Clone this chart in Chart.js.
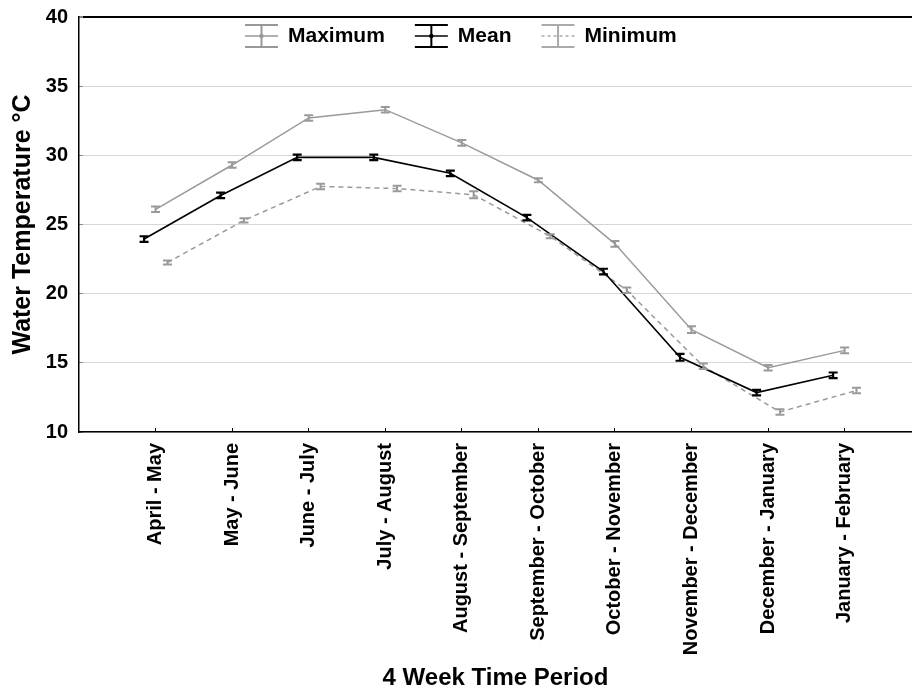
<!DOCTYPE html>
<html>
<head>
<meta charset="utf-8">
<script src="https://cdn.jsdelivr.net/npm/chart.js@4.4.1/dist/chart.umd.min.js"></script>
<style>
  html, body { margin: 0; padding: 0; background: #fff; }
  #grafico { display: block; }
</style>
</head>
<body>
<canvas id="grafico" width="912" height="693"></canvas>
<script>
const periods = ['April - May', 'May - June', 'June - July', 'July - August', 'August - September',
  'September - October', 'October - November', 'November - December', 'December - January', 'January - February'];

const maxTemp = [26.1, 29.3, 32.7, 33.3, 30.9, 28.2, 23.6, 17.4, 14.65, 15.9];
const maxErr  = [0.2, 0.2, 0.2, 0.2, 0.2, 0.15, 0.2, 0.25, 0.2, 0.2];

const meanTemp = [23.95, 27.1, 29.85, 29.85, 28.7, 25.5, 21.6, 15.4, 12.85, 14.1];
const meanErr  = [0.2, 0.2, 0.2, 0.2, 0.2, 0.2, 0.2, 0.25, 0.2, 0.2];

const minTemp = [22.25, 25.3, 27.75, 27.6, 27.15, 24.15, 20.25, 14.75, 11.45, 13.0];
const minErr  = [0.15, 0.15, 0.2, 0.2, 0.25, 0.15, 0.2, 0.2, 0.2, 0.2];

const yTicks = [10, 15, 20, 25, 30, 35, 40];

const FONT = "'Liberation Sans', Arial, sans-serif";

function points(values, shift) {
  return values.map((v, i) => ({ x: i + shift, y: v }));
}

const errorBars = {
  id: 'errorBars',
  afterDatasetsDraw(chart) {
    const ctx = chart.ctx;
    const yScale = chart.scales.y;
    [2, 0, 1].forEach(i => {
      const ds = chart.data.datasets[i];
      const meta = chart.getDatasetMeta(i);
      ctx.save();
      ctx.strokeStyle = ds.borderColor;
      ctx.lineWidth = ds.errorLineWidth;
      meta.data.forEach((pt, j) => {
        const v = ds.data[j].y;
        const top = yScale.getPixelForValue(v + ds.errors[j]);
        const bot = yScale.getPixelForValue(v - ds.errors[j]);
        ctx.beginPath();
        ctx.moveTo(pt.x, top); ctx.lineTo(pt.x, bot);
        ctx.moveTo(pt.x - 4.5, top); ctx.lineTo(pt.x + 4.5, top);
        ctx.moveTo(pt.x - 4.5, bot); ctx.lineTo(pt.x + 4.5, bot);
        ctx.stroke();
      });
      ctx.restore();
    });
  }
};

// legend sits inside the plot, near the top, like the original
const insideLegend = {
  id: 'insideLegend',
  afterDraw(chart) {
    const ctx = chart.ctx;
    const area = chart.chartArea;
    const cy = area.top + 19;
    let x = area.left + 166;
    ctx.save();
    ctx.font = 'bold 21px ' + FONT;
    ctx.textBaseline = 'middle';
    ctx.textAlign = 'left';
    chart.data.datasets.forEach(ds => {
      const col = ds.legendColor;
      const xm = x + 16.5;
      ctx.strokeStyle = col;
      ctx.lineWidth = 2;
      ctx.setLineDash([]);
      ctx.beginPath();
      ctx.moveTo(x, cy - 11); ctx.lineTo(x + 33, cy - 11);
      ctx.moveTo(x, cy + 11); ctx.lineTo(x + 33, cy + 11);
      ctx.moveTo(xm, cy - 11); ctx.lineTo(xm, cy + 11);
      ctx.stroke();
      ctx.lineWidth = 1.5;
      if (ds.borderDash) ctx.setLineDash([3, 3]);
      ctx.beginPath();
      ctx.moveTo(x, cy); ctx.lineTo(x + 33, cy);
      ctx.stroke();
      ctx.setLineDash([]);
      if (!ds.borderDash) {
        ctx.fillStyle = col;
        ctx.beginPath();
        ctx.arc(xm, cy, 2.2, 0, Math.PI * 2);
        ctx.fill();
      }
      ctx.fillStyle = '#000';
      ctx.fillText(ds.label, x + 43, cy);
      x += 43 + ctx.measureText(ds.label).width + 30;
    });
    ctx.restore();
  }
};

new Chart(document.getElementById('grafico').getContext('2d'), {
  type: 'line',
  data: {
    datasets: [
      {
        label: 'Maximum',
        data: points(maxTemp, 0),
        errors: maxErr,
        borderColor: '#9a9a9a',
        legendColor: '#999',
        borderWidth: 1.5,
        errorLineWidth: 2,
        pointRadius: 0,
        tension: 0
      },
      {
        label: 'Mean',
        data: points(meanTemp, -0.15),
        errors: meanErr,
        borderColor: '#000',
        legendColor: '#000',
        borderWidth: 1.6,
        errorLineWidth: 2.2,
        pointRadius: 0,
        tension: 0
      },
      {
        label: 'Minimum',
        data: points(minTemp, 0.155),
        errors: minErr,
        borderColor: '#9a9a9a',
        legendColor: '#aaa',
        borderWidth: 1.5,
        borderDash: [5, 4],
        errorLineWidth: 2,
        pointRadius: 0,
        tension: 0
      }
    ]
  },
  options: {
    responsive: false,
    animation: false,
    devicePixelRatio: 1,
    layout: { padding: { top: 17, right: 0, bottom: 0, left: 0 } },
    plugins: {
      legend: { display: false },
      tooltip: { enabled: false }
    },
    scales: {
      x: {
        type: 'linear',
        min: -1,
        max: 9.88,
        afterBuildTicks: scale => { scale.ticks = periods.map((p, i) => ({ value: i })); },
        afterFit: scale => { scale.height = 261; },
        grid: { drawOnChartArea: false, drawTicks: true, tickLength: -4, tickColor: '#000' },
        border: { color: '#000', width: 1.5 },
        ticks: {
          autoSkip: false,
          minRotation: 90,
          maxRotation: 90,
          padding: 15,
          color: '#000',
          font: { family: FONT, size: 20, weight: 'bold' },
          callback: v => periods[v] ?? ''
        },
        title: {
          display: true,
          text: '4 Week Time Period',
          color: '#000',
          font: { family: FONT, size: 24, weight: 'bold' },
          padding: 0
        }
      },
      y: {
        min: 10,
        max: 40,
        afterBuildTicks: scale => { scale.ticks = yTicks.map(v => ({ value: v })); },
        afterFit: scale => {
          scale.width = 79;
          scale.paddingTop = 0;
          scale.paddingBottom = 0;
        },
        grid: {
          color: c => c.tick.value === 40 ? '#000' : '#d6d6d6',
          lineWidth: c => c.tick.value === 40 ? 2 : 1,
          tickLength: -4,
          tickColor: '#888'
        },
        border: { color: '#000', width: 1.5 },
        ticks: {
          padding: 15,
          color: '#000',
          font: { family: FONT, size: 20, weight: 'bold' }
        },
        title: {
          display: true,
          text: 'Water Temperature °C',
          color: '#000',
          font: { family: FONT, size: 25, weight: 'bold' },
          padding: { top: 8, bottom: 0 }
        }
      }
    }
  },
  plugins: [errorBars, insideLegend]
});
</script>
</body>
</html>
